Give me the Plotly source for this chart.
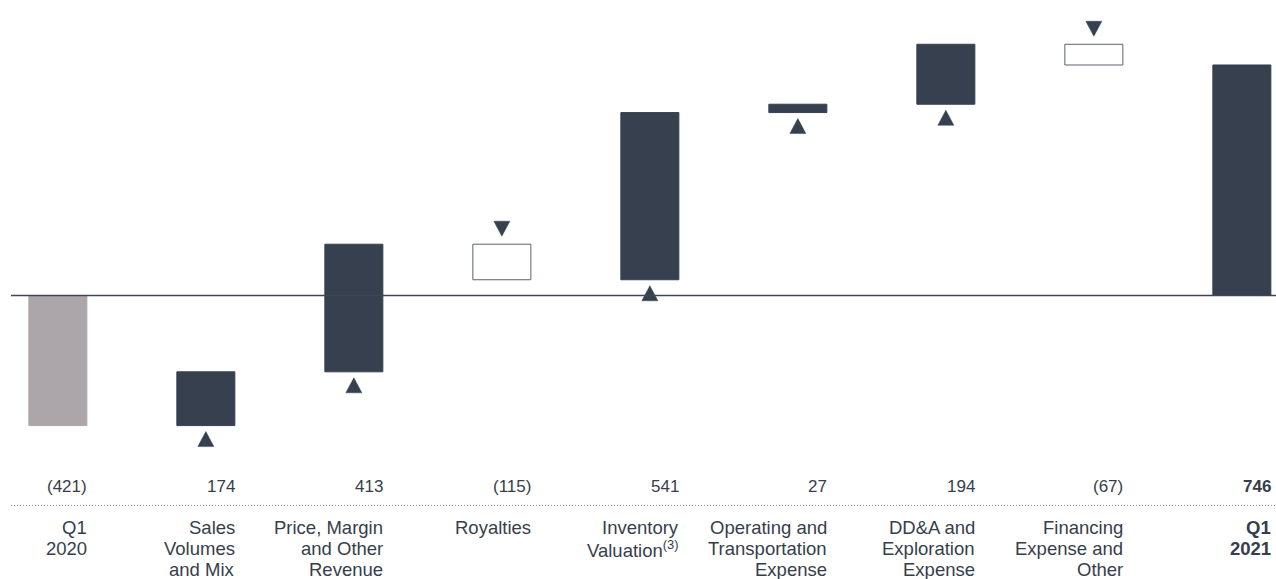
import plotly.graph_objects as go

# Waterfall of net earnings components (C$ millions)
categories = [
    "Q1<br>2020",
    "Sales<br>Volumes<br>and Mix",
    "Price, Margin<br>and Other<br>Revenue",
    "Royalties",
    "Inventory<br>Valuation<sup>(3)</sup>",
    "Operating and<br>Transportation<br>Expense",
    "DD&A and<br>Exploration<br>Expense",
    "Financing<br>Expense and<br>Other",
    "Q1<br>2021",
]
changes = [-421, 174, 413, -115, 541, 27, 194, -67, 746]
value_labels = ["(421)", "174", "413", "(115)", "541", "27", "194", "(67)", "746"]
kinds = ["total", "delta", "delta", "delta", "delta", "delta", "delta", "delta", "total"]
bold = [False, False, False, False, False, False, False, False, True]

DARK = "#36404f"
GREY = "#aca6aa"
TEXT = "#363e4b"
FONT = "Liberation Sans, Arial, sans-serif"

W, H = 1276, 579
PX_PER_UNIT = 0.309
ZERO_PX = 295.5
SLOT_PX = 148.0
FIRST_CENTER_PX = 57.85
BAR_W = 58.0 / SLOT_PX

# bar bases and tops from the running total
bases, heights, fills, lines = [], [], [], []
running = 0
for v, k in zip(changes, kinds):
    if k == "total":
        base, top = 0, v
        running = v
    else:
        base, top = running, running + v
        running += v
    lo, hi = min(base, top), max(base, top)
    bases.append(lo)
    heights.append(hi - lo)
    if k == "total":
        fills.append(GREY if v < 0 else DARK)
        lines.append(GREY if v < 0 else DARK)
    elif v < 0:
        fills.append("white")
        lines.append("#5b6371")
    else:
        fills.append(DARK)
        lines.append(DARK)

x = list(range(len(changes)))

fig = go.Figure()
fig.add_trace(go.Bar(
    x=x, y=heights, base=bases, width=BAR_W,
    marker=dict(color=fills, line=dict(color=lines, width=1)),
    hoverinfo="skip", showlegend=False,
))

# direction triangles: up below increases, down above decreases
tri_hw = 8.0 / SLOT_PX
tri_h = 15.0 / PX_PER_UNIT
gap_up = 6.0 / PX_PER_UNIT
gap_dn = 8.0 / PX_PER_UNIT
tx, ty = [], []
for i, (v, k) in enumerate(zip(changes, kinds)):
    if k != "delta":
        continue
    lo, hi = bases[i], bases[i] + heights[i]
    if v > 0:
        apex = lo - gap_up
        base_y = apex - tri_h
    else:
        apex = hi + gap_dn
        base_y = apex + tri_h
    tx += [i - tri_hw, i + tri_hw, i, i - tri_hw, None]
    ty += [base_y, base_y, apex, base_y, None]
fig.add_trace(go.Scatter(
    x=tx, y=ty, mode="lines", fill="toself", fillcolor=DARK,
    line=dict(color=DARK, width=0.5), hoverinfo="skip", showlegend=False,
))


def py(px):
    return 1 - px / H


def fmt(s, b):
    return f"<b>{s}</b>" if b else s


annotations = []
for i in x:
    annotations.append(dict(
        x=i + BAR_W / 2, y=py(486), xref="x", yref="paper", xshift=2,
        text=fmt(value_labels[i], bold[i]), showarrow=False,
        xanchor="right", yanchor="middle", align="right",
        font=dict(family=FONT, size=17, color=TEXT),
    ))
    for j, part in enumerate(categories[i].split("<br>")):
        annotations.append(dict(
            x=i + BAR_W / 2, y=py(527.5 + 21 * j), xref="x", yref="paper", xshift=2,
            text=fmt(part, bold[i]), showarrow=False,
            xanchor="right", yanchor="middle", align="right",
            font=dict(family=FONT, size=18.5, color=TEXT),
        ))

shapes = [
    dict(type="line", xref="paper", yref="y", x0=11 / W, x1=1, y0=0, y1=0,
         line=dict(color="#3f4755", width=1.5)),
    dict(type="line", xref="paper", yref="paper", x0=11 / W, x1=1,
         y0=py(505.5), y1=py(505.5), line=dict(color="#8a8f96", width=1, dash="1px,2px")),
]

x0 = -FIRST_CENTER_PX / SLOT_PX
x1 = (W - FIRST_CENTER_PX) / SLOT_PX
y_top = ZERO_PX / PX_PER_UNIT
y_bot = -(H - ZERO_PX) / PX_PER_UNIT

fig.update_layout(
    width=W, height=H,
    margin=dict(l=0, r=0, t=0, b=0),
    paper_bgcolor="white", plot_bgcolor="white",
    xaxis=dict(range=[x0, x1], visible=False, fixedrange=True),
    yaxis=dict(range=[y_bot, y_top], visible=False, fixedrange=True),
    barmode="overlay",
    annotations=annotations,
    shapes=shapes,
    font=dict(family=FONT, color=TEXT),
)

fig.write_html("out.html", config={"displayModeBar": False})
